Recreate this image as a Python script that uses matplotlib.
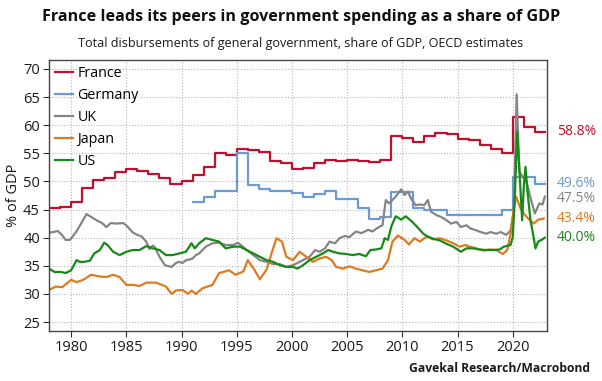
import matplotlib.pyplot as plt
import matplotlib.transforms as mtransforms

plt.rcParams['font.family'] = ['Open Sans', 'DejaVu Sans']

# France and Germany: annual values (step lines)
france_years = list(range(1978, 2023))
france_vals = [45.2, 45.5, 46.4, 48.9, 50.2, 50.7, 51.6, 52.2, 51.9, 51.3,
               50.7, 49.5, 50.0, 51.1, 52.6, 55.1, 54.7, 55.7, 55.6, 55.3,
               53.6, 53.3, 52.3, 52.4, 53.3, 53.9, 53.7, 53.9, 53.6, 53.4,
               53.9, 58.0, 57.8, 57.0, 58.0, 58.6, 58.5, 57.5, 57.3, 56.5,
               55.8, 55.1, 61.5, 59.7, 58.8]

germany_years = list(range(1991, 2023))
germany_vals = [46.4, 47.3, 48.3, 48.3, 55.0, 49.4, 48.6, 48.3, 48.3, 47.9,
                47.3, 47.7, 48.3, 46.9, 46.9, 45.2, 43.3, 43.6, 48.2, 48.2,
                45.2, 44.9, 44.9, 44.1, 44.1, 44.1, 44.1, 44.1, 44.9, 50.8,
                50.8, 49.5]

# UK, Japan, US: at sub-annual points
uk_years = [1978.0, 1978.4, 1978.8, 1979.2, 1979.5, 1979.9, 1980.45, 1980.9, 1981.4, 1981.8,
            1982.4, 1982.8, 1983.2, 1983.6, 1984.1, 1984.7, 1985.0, 1985.6, 1986.0, 1986.4,
            1986.8, 1987.1, 1987.4, 1987.6, 1988.0, 1988.5, 1989.1, 1989.5, 1989.8, 1990.1,
            1990.4, 1990.7, 1991.0, 1991.3, 1991.6, 1992.2, 1992.8, 1993.4, 1994.0, 1994.7,
            1995.1, 1995.5, 1995.9, 1996.5, 1997.1, 1997.7, 1998.3, 1998.9, 1999.5, 2000.1,
            2000.4, 2001.0, 2001.6, 2002.1, 2002.5, 2003.0, 2003.4, 2003.9, 2004.3, 2004.8,
            2005.2, 2005.8, 2006.3, 2006.9, 2007.3, 2007.8, 2008.2, 2008.5, 2008.8, 2009.1,
            2009.4, 2009.9, 2010.2, 2010.5, 2010.8, 2011.2, 2011.6, 2012.0, 2012.3, 2012.6,
            2013.1, 2013.5, 2014.0, 2014.4, 2014.9, 2015.3, 2015.8, 2016.2, 2016.7, 2017.1,
            2017.6, 2018.0, 2018.5, 2018.9, 2019.4, 2019.8, 2020.1, 2020.35, 2020.6, 2020.8,
            2021.25, 2021.7, 2022.0, 2022.4, 2022.7, 2022.9]
uk_vals = [40.9, 41.0, 41.2, 40.4, 39.6, 39.6, 41.0, 42.5, 44.2, 43.7,
           43.0, 42.6, 41.9, 42.6, 42.5, 42.6, 42.2, 40.9, 40.5, 40.2,
           39.3, 38.0, 38.6, 38.3, 36.6, 35.1, 34.8, 35.5, 35.7, 35.5,
           36.0, 36.1, 36.3, 36.9, 37.2, 38.4, 39.0, 39.1, 38.7, 38.7,
           39.1, 38.5, 37.8, 36.9, 36.0, 35.7, 35.3, 35.3, 34.8, 35.1,
           35.4, 36.0, 36.6, 37.8, 37.5, 38.1, 39.3, 39.0, 39.9, 40.3,
           40.1, 41.1, 40.8, 41.4, 41.1, 41.8, 42.2, 46.7, 46.1, 46.7,
           47.3, 48.6, 47.6, 48.2, 46.9, 45.8, 45.9, 45.8, 46.7, 44.6,
           44.0, 43.7, 43.1, 42.5, 42.8, 41.9, 42.2, 41.6, 41.3, 41.0,
           40.7, 41.0, 40.7, 41.0, 40.5, 41.3, 44.9, 65.5, 51.7, 51.1,
           49.9, 46.4, 44.3, 46.1, 45.9, 47.3]

japan_years = [1978.0, 1978.6, 1979.2, 1980.0, 1980.5, 1981.1, 1981.8, 1982.6, 1983.2, 1983.8,
               1984.4, 1985.0, 1985.6, 1986.2, 1986.8, 1987.7, 1988.6, 1989.1, 1989.5, 1990.1,
               1990.6, 1990.9, 1991.3, 1991.9, 1992.8, 1993.4, 1994.3, 1994.9, 1995.6, 1996.0,
               1996.6, 1997.1, 1997.7, 1998.2, 1998.6, 1999.1, 1999.5, 2000.1, 2000.7, 2001.3,
               2001.9, 2002.5, 2003.1, 2003.6, 2004.0, 2004.6, 2005.2, 2005.8, 2006.4, 2007.0,
               2007.6, 2008.2, 2008.7, 2009.1, 2009.6, 2010.2, 2010.6, 2011.1, 2011.6, 2012.2,
               2012.8, 2013.4, 2014.0, 2014.6, 2015.2, 2015.7, 2016.1, 2016.7, 2017.3, 2017.9,
               2018.5, 2019.1, 2019.5, 2019.8, 2020.1, 2020.3, 2020.7, 2021.0, 2021.4, 2021.9,
               2022.3, 2022.8]
japan_vals = [30.7, 31.3, 31.2, 32.5, 32.1, 32.5, 33.4, 33.1, 33.0, 33.4,
              33.0, 31.6, 31.6, 31.4, 32.0, 32.0, 31.3, 30.0, 30.6, 30.7,
              30.0, 30.6, 30.0, 31.0, 31.6, 33.7, 34.2, 33.4, 34.0, 36.0,
              34.3, 32.6, 34.3, 37.5, 39.9, 39.3, 36.6, 36.0, 37.5, 36.6,
              35.7, 36.3, 36.6, 36.0, 34.8, 34.5, 34.9, 34.5, 34.2, 33.9,
              34.2, 34.5, 36.0, 39.3, 40.4, 39.6, 38.8, 39.9, 39.3, 40.2,
              39.7, 39.9, 39.5, 39.0, 38.4, 38.7, 38.4, 38.1, 37.7, 37.9,
              37.8, 37.1, 37.8, 40.7, 45.2, 47.3, 45.2, 44.3, 43.4, 42.5,
              43.2, 43.4]

us_years = [1978.0, 1978.5, 1979.1, 1979.5, 1980.0, 1980.5, 1980.8, 1981.2, 1981.7, 1982.1,
            1982.6, 1983.0, 1983.3, 1983.8, 1984.4, 1985.0, 1985.6, 1986.2, 1986.8, 1987.4,
            1988.0, 1988.6, 1989.2, 1989.8, 1990.4, 1990.9, 1991.2, 1991.6, 1992.2, 1992.8,
            1993.4, 1994.0, 1994.7, 1995.3, 1995.9, 1996.5, 1997.1, 1997.7, 1998.3, 1998.9,
            1999.5, 2000.1, 2000.5, 2001.0, 2001.6, 2002.2, 2002.8, 2003.3, 2003.7, 2004.3,
            2004.9, 2005.5, 2006.1, 2006.7, 2007.1, 2007.6, 2008.1, 2008.4, 2008.7, 2009.0,
            2009.4, 2009.9, 2010.3, 2010.8, 2011.3, 2011.9, 2012.3, 2012.8, 2013.4, 2014.0,
            2014.6, 2015.3, 2015.8, 2016.4, 2017.0, 2017.6, 2018.2, 2018.8, 2019.2, 2019.8,
            2020.0, 2020.2, 2020.4, 2020.6, 2020.85, 2021.0, 2021.15, 2021.35, 2021.6, 2021.85,
            2022.05, 2022.3, 2022.6, 2022.9]
us_vals = [34.5, 33.9, 33.9, 33.7, 34.2, 36.0, 35.7, 35.7, 35.9, 37.2,
           37.8, 39.1, 38.7, 37.5, 36.9, 37.5, 37.8, 37.8, 38.5, 38.1,
           37.8, 36.9, 36.9, 37.2, 37.5, 39.0, 38.1, 39.0, 39.9, 39.6,
           39.3, 38.1, 38.4, 38.4, 37.8, 37.2, 36.6, 36.0, 35.7, 35.1,
           34.8, 34.8, 34.5, 35.1, 36.0, 36.6, 37.2, 37.8, 37.5, 37.2,
           37.1, 36.9, 37.1, 36.7, 37.8, 37.9, 38.1, 39.9, 39.6, 42.0,
           43.8, 43.2, 43.8, 43.0, 42.0, 40.7, 40.2, 39.8, 39.5, 38.9,
           38.4, 37.5, 38.1, 38.1, 37.9, 37.8, 37.8, 37.9, 38.4, 38.7,
           40.1, 47.9, 58.8, 52.0, 43.1, 49.1, 52.6, 47.9, 43.1, 40.5,
           38.1, 39.3, 39.6, 40.0]

names = ['France', 'Germany', 'UK', 'Japan', 'US']
colors = ['#c0102c', '#6b9bd2', '#858585', '#e07a1f', '#168a16']
end_labels = ['58.8%', '49.6%', '47.5%', '43.4%', '40.0%']
end_label_y = [58.8, 49.6, 46.9, 43.4, 40.0]

fig = plt.figure(figsize=(6.02, 3.81), dpi=100)
ax = fig.add_axes([49/602, 50/381, 498/602, 271/381])

lw = 1.6
ax.plot(france_years + [2022.95], france_vals + [france_vals[-1]], drawstyle='steps-post',
        color=colors[0], lw=lw, label=names[0])
ax.plot(germany_years + [2022.95], germany_vals + [germany_vals[-1]], drawstyle='steps-post',
        color=colors[1], lw=lw, label=names[1])
ax.plot(uk_years, uk_vals, color=colors[2], lw=lw, label=names[2])
ax.plot(japan_years, japan_vals, color=colors[3], lw=lw, label=names[3])
ax.plot(us_years, us_vals, color=colors[4], lw=lw, label=names[4])

ax.set_xlim(1978, 2023.1)
ax.set_ylim(23.4, 71.6)
ax.set_xticks(range(1980, 2021, 5))
ax.set_yticks(range(25, 71, 5))
ax.grid(True, linestyle=':', color='#b5b5b5', lw=0.8)
ax.tick_params(direction='out', length=4, width=0.8, colors='#333333', labelsize=10.5,
               labelcolor='#1a1a1a', pad=2.5)
for s in ax.spines.values():
    s.set_color('#444444')
    s.set_linewidth(1.0)
ax.set_ylabel('% of GDP', fontsize=10.5, color='#1a1a1a')
ax.yaxis.set_label_coords(-0.056, 0.5)

ax.legend(loc='upper left', frameon=False, fontsize=10.3, handlelength=1.3,
          handletextpad=0.3, labelspacing=0.5, borderaxespad=0.2, borderpad=0.2)

trans = mtransforms.blended_transform_factory(ax.transAxes, ax.transData)
for lab, yv, c in zip(end_labels, end_label_y, colors):
    ax.text(1.02, yv, lab, transform=trans, color=c, fontsize=10, va='center', ha='left')

fig.text(0.5, 1 - 17/381, 'France leads its peers in government spending as a share of GDP',
         ha='center', va='center', fontsize=11.6, fontweight='bold', color='#111111')
fig.text(0.5, 1 - 44/381, 'Total disbursements of general government, share of GDP, OECD estimates',
         ha='center', va='center', fontsize=9.1, color='#1a1a1a')
fig.text(590/602, 1 - 368/381, 'Gavekal Research/Macrobond', ha='right', va='center',
         fontsize=8.7, fontweight='bold', color='#1a1a1a')

fig.savefig('out.png', dpi=100)
